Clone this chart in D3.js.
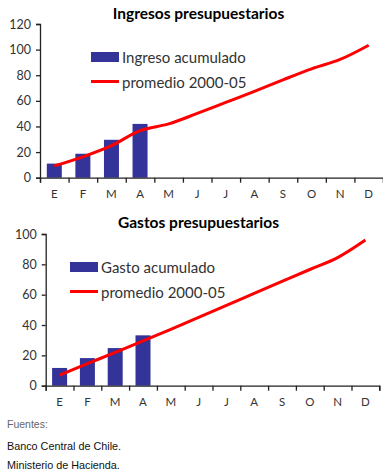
<!DOCTYPE html>
<html><head><meta charset="utf-8">
<script src="https://cdn.jsdelivr.net/npm/d3@7"></script>
<style>body{margin:0;background:#fff}svg{display:block}</style>
</head><body>
<svg id="c" width="383" height="472"></svg>
<script>
const months = ["E","F","M","A","M","J","J","A","S","O","N","D"];
const ingresoAcum = [11, 18.7, 29.6, 42];
const ingresoProm = [9.2, 16.3, 25, 36.7, 42, 50.2, 58.8, 67.4, 76.4, 85, 92.3, 103.4];
const gastoAcum = [11.7, 18.2, 24.8, 33.2];
const gastoProm = [7, 14.5, 22, 29.5, 37.2, 45, 52.9, 60.8, 68.7, 76.6, 84.4, 96];
const ingresoTicks = [0, 20, 40, 60, 80, 100, 120];
const gastoTicks = [0, 20, 40, 60, 80, 100];
const titles = ["Ingresos presupuestarios", "Gastos presupuestarios"];
const legendBar = ["Ingreso acumulado", "Gasto acumulado"];
const legendLine = "promedio 2000-05";
const sources = ["Fuentes:", "Banco Central de Chile.", "Ministerio de Hacienda."];

const svg = d3.select("#c");
const FONT = "Lato, 'Open Sans', sans-serif";
const BAR = "#333399", LINE = "#ff0000";

function panel(cfg){
  const g = svg.append("g");
  const x = d3.scaleBand().domain(d3.range(12)).range([cfg.x0, cfg.x1]).paddingInner(0.47).paddingOuter(0.235);
  const xb = d3.scaleLinear().domain([0,12]).range([cfg.x0, cfg.x1]);
  const y = d3.scaleLinear().domain([0, cfg.ymax]).range([cfg.yb, cfg.yt]);
  const xc = i => xb(i + 0.5);

  g.selectAll("rect.bar").data(cfg.bars).join("rect").attr("class","bar")
    .attr("x",(d,i)=>xc(i)-7.5).attr("width",15)
    .attr("y",d=>y(d)).attr("height",d=>y(0)-y(d)).attr("fill",BAR);

  // y axis
  const ya = g.append("g").attr("transform",`translate(${cfg.x0},0)`)
    .call(d3.axisLeft(y).tickValues(cfg.ticks).tickSize(4).tickPadding(5).tickFormat(d3.format("d")));
  ya.select(".domain").attr("stroke","#222").attr("stroke-width",1.3);
  ya.selectAll(".tick line").attr("stroke","#222").attr("stroke-width",1.3);
  ya.selectAll("text").attr("fill","#333").style("font-family",FONT).style("font-size","12.5px");

  // x axis boundaries
  const xa = g.append("g").attr("transform",`translate(0,${cfg.yb})`)
    .call(d3.axisBottom(xb).tickValues(d3.range(13)).tickSize(5).tickFormat(""));
  xa.select(".domain").attr("stroke","#222").attr("stroke-width",1.3);
  xa.selectAll(".tick line").attr("stroke","#222").attr("stroke-width",1.3);
  // x labels
  const xl = g.append("g").attr("transform",`translate(0,${cfg.yb})`)
    .call(d3.axisBottom(x).tickSize(0).tickPadding(12).tickFormat(i=>months[i]));
  xl.select(".domain").remove();
  xl.selectAll("text").attr("fill","#333").style("font-family",FONT).style("font-size","11.5px");

  // line
  const line = d3.line().x((d,i)=>xc(i)).y(d=>y(d)).curve(d3.curveMonotoneX);
  g.append("path").datum(cfg.line).attr("d",line).attr("fill","none")
    .attr("stroke",LINE).attr("stroke-width",3).attr("stroke-linejoin","round");

  // title
  g.append("text").attr("x",198.5).attr("y",cfg.titleY).attr("text-anchor","middle")
    .style("font-family",FONT).style("font-weight","bold").style("font-size","15.5px")
    .attr("fill","#000").text(cfg.title);

  // legend
  g.append("rect").attr("x",cfg.lx).attr("y",cfg.ly).attr("width",28).attr("height",10).attr("fill",BAR);
  g.append("text").attr("x",cfg.lx+31).attr("y",cfg.ly+10.5).style("font-family",FONT)
    .style("font-size","15px").attr("fill","#333").text(cfg.legBar);
  g.append("line").attr("x1",cfg.lx).attr("x2",cfg.lx+28).attr("y1",cfg.ly+29.5).attr("y2",cfg.ly+29.5)
    .attr("stroke",LINE).attr("stroke-width",3);
  g.append("text").attr("x",cfg.lx+31).attr("y",cfg.ly+36).style("font-family",FONT)
    .style("font-size","15px").attr("fill","#333").text(legendLine);
}

panel({x0:40, x1:383, yt:24, yb:177.7, ymax:120, ticks:ingresoTicks, bars:ingresoAcum, line:ingresoProm,
  title:titles[0], titleY:18.5, lx:91, ly:52, legBar:legendBar[0]});
panel({x0:45.7, x1:379.3, yt:234, yb:385.7, ymax:100, ticks:gastoTicks, bars:gastoAcum, line:gastoProm,
  title:titles[1], titleY:228.3, lx:70, ly:262, legBar:legendBar[1]});

svg.append("g").selectAll("text").data(sources).join("text")
  .attr("x",7).attr("y",(d,i)=>[428,450,469][i])
  .attr("fill",(d,i)=>i===0?"#666":"#111")
  .style("font-family",(d,i)=>i===0?"'Liberation Sans Narrow', 'Liberation Sans', sans-serif":"'Liberation Sans', Arial, sans-serif")
  .style("font-size",(d,i)=>i===0?"10.5px":"10.8px").text(d=>d);
</script>
</body></html>
